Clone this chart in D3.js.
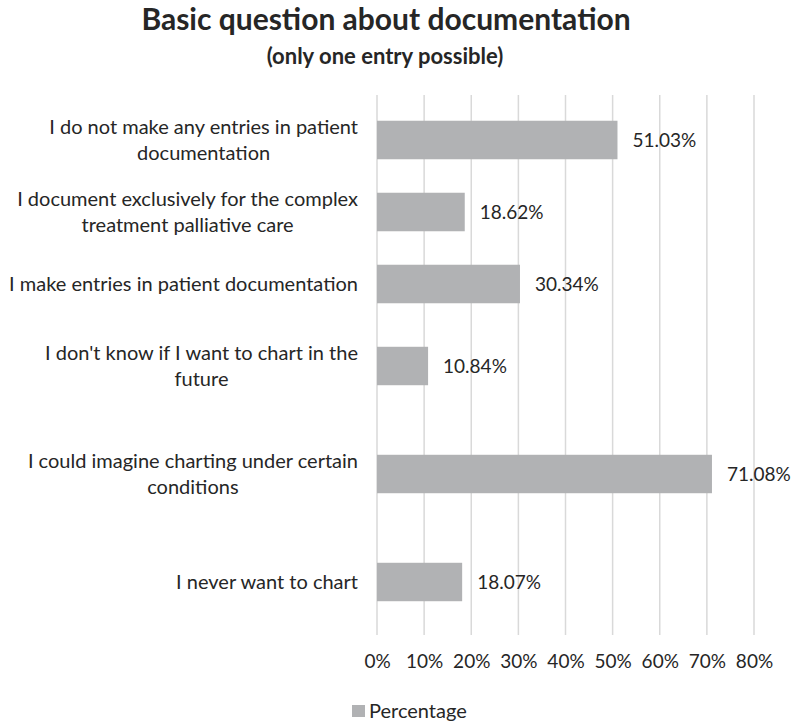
<!DOCTYPE html>
<html>
<head>
<meta charset="utf-8">
<script src="https://cdn.jsdelivr.net/npm/d3@7"></script>
<style>
  body { margin: 0; background: #fff; }
  svg { display: block; font-family: Lato, "Open Sans", sans-serif; }
</style>
</head>
<body>
<svg id="chart" width="794" height="722"></svg>
<script>
// data
// first block: how people document today
const currentCategories = [
    "I do not make any entries in patient\ndocumentation",
    "I document exclusively for the complex\ntreatment palliative care",
    "I make entries in patient documentation"
];
const currentValues = [51.03, 18.62, 30.34];
// second block: charting in the future
const futureCategories = [
    "I don't know if I want to chart in the\nfuture",
    "I could imagine charting under certain\nconditions",
    "I never want to chart"
];
const futureValues = [10.84, 71.08, 18.07];
const xTicks = [0, 10, 20, 30, 40, 50, 60, 70, 80];
const seriesName = "Percentage";
const title = "Basic question about documentation";
const subtitle = "(only one entry possible)";

const width = 794, height = 722;
const margin = { top: 95, right: 40, bottom: 87, left: 377 };
const barColor = "#b1b2b4";
const textColor = "#262626";

const svg = d3.select("#chart");

const x = d3.scaleLinear()
    .domain([0, 80])
    .range([margin.left, margin.left + 377]);

// the two blocks are spaced differently in the original, so each gets its own band scale
const yCurrent = d3.scaleBand()
    .domain(currentCategories)
    .range([104, 320])
    .paddingInner(0.465)
    .paddingOuter(0.2325);

const yFuture = d3.scaleBand()
    .domain(futureCategories)
    .range([312, 636])
    .paddingInner(0.644)
    .paddingOuter(0.322);

const rows = currentCategories.map((c, i) => ({ label: c, value: currentValues[i], y: yCurrent }))
    .concat(futureCategories.map((c, i) => ({ label: c, value: futureValues[i], y: yFuture })));

// titles
svg.append("text")
    .attr("x", 386)
    .attr("y", 30)
    .attr("text-anchor", "middle")
    .attr("font-size", 30)
    .attr("font-weight", "bold")
    .attr("fill", textColor)
    .text(title);

svg.append("text")
    .attr("x", 385)
    .attr("y", 64)
    .attr("text-anchor", "middle")
    .attr("font-size", 22)
    .attr("font-weight", "bold")
    .attr("fill", textColor)
    .text(subtitle);

// vertical gridlines
svg.append("g")
    .selectAll("line")
    .data(xTicks)
    .join("line")
    .attr("x1", d => x(d))
    .attr("x2", d => x(d))
    .attr("y1", margin.top)
    .attr("y2", height - margin.bottom)
    .attr("stroke", "#d9d9d9")
    .attr("stroke-width", 1.5);

// x axis (labels only)
const xAxis = svg.append("g")
    .attr("transform", `translate(0, ${height - margin.bottom})`)
    .call(d3.axisBottom(x).tickValues(xTicks).tickFormat(d => d + "%").tickSize(0).tickPadding(20));
xAxis.select(".domain").remove();
xAxis.selectAll("text")
    .attr("font-size", 19)
    .attr("font-family", "Lato, sans-serif")
    .attr("fill", textColor);

// bars
svg.append("g")
    .selectAll("rect")
    .data(rows)
    .join("rect")
    .attr("x", x(0))
    .attr("y", d => d.y(d.label))
    .attr("width", d => x(d.value) - x(0))
    .attr("height", d => d.y.bandwidth())
    .attr("fill", barColor);

// value labels
svg.append("g")
    .selectAll("text")
    .data(rows)
    .join("text")
    .attr("x", d => x(d.value) + 15)
    .attr("y", d => d.y(d.label) + d.y.bandwidth() / 2)
    .attr("dy", "0.35em")
    .attr("font-size", 19)
    .attr("fill", textColor)
    .text(d => d.value.toFixed(2) + "%");

// category labels, centred lines, right edge near the axis
const labelRight = margin.left - 19;
const lineHeight = 26;
const labels = svg.append("g")
    .selectAll("text")
    .data(rows)
    .join("text")
    .attr("font-size", 20)
    .attr("fill", textColor)
    .attr("text-anchor", "middle");

labels.each(function(d) {
    const lines = d.label.split("\n");
    const t = d3.select(this);
    const cy = d.y(d.label) + d.y.bandwidth() / 2;
    // measure the widest line so the block ends at labelRight
    const w = d3.max(lines, line => {
        const tmp = t.append("tspan").text(line);
        const len = tmp.node().getComputedTextLength();
        tmp.remove();
        return len;
    });
    const cx = labelRight - w / 2;
    lines.forEach((line, i) => {
        t.append("tspan")
            .attr("x", cx)
            .attr("y", cy + (i - (lines.length - 1) / 2) * lineHeight)
            .attr("dy", "0.35em")
            .text(line);
    });
});

// legend
const legend = svg.append("g")
    .attr("transform", `translate(352, 711)`);
legend.append("rect")
    .attr("x", 0)
    .attr("y", -6)
    .attr("width", 13)
    .attr("height", 12)
    .attr("fill", barColor);
legend.append("text")
    .attr("x", 17)
    .attr("y", 0)
    .attr("dy", "0.35em")
    .attr("font-size", 20)
    .attr("fill", textColor)
    .text(seriesName);
</script>
</body>
</html>
